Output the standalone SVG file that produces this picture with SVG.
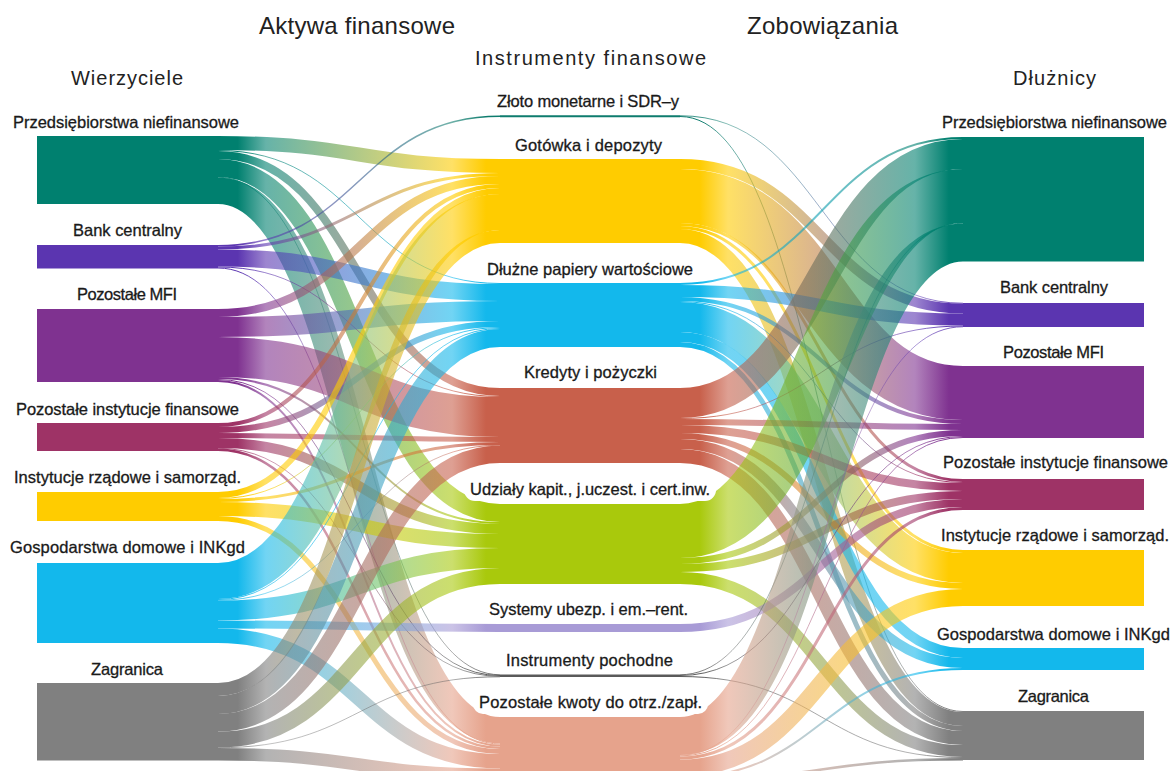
<svg xmlns="http://www.w3.org/2000/svg" xmlns:xlink="http://www.w3.org/1999/xlink" width="1174" height="771" viewBox="0 0 1174 771">
<style>
.t{font-family:"Liberation Sans",Arial,sans-serif;fill:#1a1a1a}
.h{font-size:24px;fill:#222}
.h2{font-size:20px;fill:#222}
.lb{font-size:16.5px;stroke:#1a1a1a;stroke-width:.3px}
.f path{fill:none}
.bg{fill:#fff}
.m{stop-opacity:.6}
.c1{stop-color:#00806F}.c2{stop-color:#5B35B0}.c3{stop-color:#7F3290}.c4{stop-color:#9E3366}
.c5{stop-color:#FFCC00}.c6{stop-color:#13B8EC}.c7{stop-color:#808080}
.cZ{stop-color:#0E7C6E}.cG{stop-color:#FFCC00}.cD{stop-color:#13B8EC}.cK{stop-color:#C8604B}
.cU{stop-color:#A9C90C}.cS{stop-color:#A89BD6}.cP{stop-color:#5a5a5a}.cO{stop-color:#E6A38C}
</style>
<defs>
<linearGradient id="GL" x1="218" x2="500" y1="0" y2="0" gradientUnits="userSpaceOnUse"/>
<linearGradient id="GR" x1="680" x2="963" y1="0" y2="0" gradientUnits="userSpaceOnUse"/>
<linearGradient id="l1G" xlink:href="#GL"><stop offset=".07" class="c1"/><stop offset=".17" class="c1 m"/><stop offset=".83" class="cG m"/><stop offset=".95" class="cG"/></linearGradient>
<linearGradient id="l1D" xlink:href="#GL"><stop offset=".07" class="c1"/><stop offset=".17" class="c1 m"/><stop offset=".83" class="cD m"/><stop offset=".95" class="cD"/></linearGradient>
<linearGradient id="l1K" xlink:href="#GL"><stop offset=".07" class="c1"/><stop offset=".17" class="c1 m"/><stop offset=".83" class="cK m"/><stop offset=".95" class="cK"/></linearGradient>
<linearGradient id="l1U" xlink:href="#GL"><stop offset=".07" class="c1"/><stop offset=".17" class="c1 m"/><stop offset=".83" class="cU m"/><stop offset=".95" class="cU"/></linearGradient>
<linearGradient id="l1P" xlink:href="#GL"><stop offset=".07" class="c1"/><stop offset=".17" class="c1 m"/><stop offset=".83" class="cP m"/><stop offset=".95" class="cP"/></linearGradient>
<linearGradient id="l1O" xlink:href="#GL"><stop offset=".07" class="c1"/><stop offset=".17" class="c1 m"/><stop offset=".83" class="cO m"/><stop offset=".95" class="cO"/></linearGradient>
<linearGradient id="l2Z" xlink:href="#GL"><stop offset=".07" class="c2"/><stop offset=".17" class="c2 m"/><stop offset=".83" class="cZ m"/><stop offset=".95" class="cZ"/></linearGradient>
<linearGradient id="l2G" xlink:href="#GL"><stop offset=".07" class="c2"/><stop offset=".17" class="c2 m"/><stop offset=".83" class="cG m"/><stop offset=".95" class="cG"/></linearGradient>
<linearGradient id="l2D" xlink:href="#GL"><stop offset=".07" class="c2"/><stop offset=".17" class="c2 m"/><stop offset=".83" class="cD m"/><stop offset=".95" class="cD"/></linearGradient>
<linearGradient id="l2K" xlink:href="#GL"><stop offset=".07" class="c2"/><stop offset=".17" class="c2 m"/><stop offset=".83" class="cK m"/><stop offset=".95" class="cK"/></linearGradient>
<linearGradient id="l2O" xlink:href="#GL"><stop offset=".07" class="c2"/><stop offset=".17" class="c2 m"/><stop offset=".83" class="cO m"/><stop offset=".95" class="cO"/></linearGradient>
<linearGradient id="l3G" xlink:href="#GL"><stop offset=".07" class="c3"/><stop offset=".17" class="c3 m"/><stop offset=".83" class="cG m"/><stop offset=".95" class="cG"/></linearGradient>
<linearGradient id="l3D" xlink:href="#GL"><stop offset=".07" class="c3"/><stop offset=".17" class="c3 m"/><stop offset=".83" class="cD m"/><stop offset=".95" class="cD"/></linearGradient>
<linearGradient id="l3K" xlink:href="#GL"><stop offset=".07" class="c3"/><stop offset=".17" class="c3 m"/><stop offset=".83" class="cK m"/><stop offset=".95" class="cK"/></linearGradient>
<linearGradient id="l3U" xlink:href="#GL"><stop offset=".07" class="c3"/><stop offset=".17" class="c3 m"/><stop offset=".83" class="cU m"/><stop offset=".95" class="cU"/></linearGradient>
<linearGradient id="l3P" xlink:href="#GL"><stop offset=".07" class="c3"/><stop offset=".17" class="c3 m"/><stop offset=".83" class="cP m"/><stop offset=".95" class="cP"/></linearGradient>
<linearGradient id="l3O" xlink:href="#GL"><stop offset=".07" class="c3"/><stop offset=".17" class="c3 m"/><stop offset=".83" class="cO m"/><stop offset=".95" class="cO"/></linearGradient>
<linearGradient id="l4G" xlink:href="#GL"><stop offset=".07" class="c4"/><stop offset=".17" class="c4 m"/><stop offset=".83" class="cG m"/><stop offset=".95" class="cG"/></linearGradient>
<linearGradient id="l4D" xlink:href="#GL"><stop offset=".07" class="c4"/><stop offset=".17" class="c4 m"/><stop offset=".83" class="cD m"/><stop offset=".95" class="cD"/></linearGradient>
<linearGradient id="l4K" xlink:href="#GL"><stop offset=".07" class="c4"/><stop offset=".17" class="c4 m"/><stop offset=".83" class="cK m"/><stop offset=".95" class="cK"/></linearGradient>
<linearGradient id="l4U" xlink:href="#GL"><stop offset=".07" class="c4"/><stop offset=".17" class="c4 m"/><stop offset=".83" class="cU m"/><stop offset=".95" class="cU"/></linearGradient>
<linearGradient id="l4P" xlink:href="#GL"><stop offset=".07" class="c4"/><stop offset=".17" class="c4 m"/><stop offset=".83" class="cP m"/><stop offset=".95" class="cP"/></linearGradient>
<linearGradient id="l4O" xlink:href="#GL"><stop offset=".07" class="c4"/><stop offset=".17" class="c4 m"/><stop offset=".83" class="cO m"/><stop offset=".95" class="cO"/></linearGradient>
<linearGradient id="l5G" xlink:href="#GL"><stop offset=".07" class="c5"/><stop offset=".17" class="c5 m"/><stop offset=".83" class="cG m"/><stop offset=".95" class="cG"/></linearGradient>
<linearGradient id="l5D" xlink:href="#GL"><stop offset=".07" class="c5"/><stop offset=".17" class="c5 m"/><stop offset=".83" class="cD m"/><stop offset=".95" class="cD"/></linearGradient>
<linearGradient id="l5K" xlink:href="#GL"><stop offset=".07" class="c5"/><stop offset=".17" class="c5 m"/><stop offset=".83" class="cK m"/><stop offset=".95" class="cK"/></linearGradient>
<linearGradient id="l5U" xlink:href="#GL"><stop offset=".07" class="c5"/><stop offset=".17" class="c5 m"/><stop offset=".83" class="cU m"/><stop offset=".95" class="cU"/></linearGradient>
<linearGradient id="l5O" xlink:href="#GL"><stop offset=".07" class="c5"/><stop offset=".17" class="c5 m"/><stop offset=".83" class="cO m"/><stop offset=".95" class="cO"/></linearGradient>
<linearGradient id="l6G" xlink:href="#GL"><stop offset=".07" class="c6"/><stop offset=".17" class="c6 m"/><stop offset=".83" class="cG m"/><stop offset=".95" class="cG"/></linearGradient>
<linearGradient id="l6D" xlink:href="#GL"><stop offset=".07" class="c6"/><stop offset=".17" class="c6 m"/><stop offset=".83" class="cD m"/><stop offset=".95" class="cD"/></linearGradient>
<linearGradient id="l6K" xlink:href="#GL"><stop offset=".07" class="c6"/><stop offset=".17" class="c6 m"/><stop offset=".83" class="cK m"/><stop offset=".95" class="cK"/></linearGradient>
<linearGradient id="l6U" xlink:href="#GL"><stop offset=".07" class="c6"/><stop offset=".17" class="c6 m"/><stop offset=".83" class="cU m"/><stop offset=".95" class="cU"/></linearGradient>
<linearGradient id="l6S" xlink:href="#GL"><stop offset=".07" class="c6"/><stop offset=".17" class="c6 m"/><stop offset=".83" class="cS m"/><stop offset=".95" class="cS"/></linearGradient>
<linearGradient id="l6O" xlink:href="#GL"><stop offset=".07" class="c6"/><stop offset=".17" class="c6 m"/><stop offset=".83" class="cO m"/><stop offset=".95" class="cO"/></linearGradient>
<linearGradient id="l7G" xlink:href="#GL"><stop offset=".07" class="c7"/><stop offset=".17" class="c7 m"/><stop offset=".83" class="cG m"/><stop offset=".95" class="cG"/></linearGradient>
<linearGradient id="l7D" xlink:href="#GL"><stop offset=".07" class="c7"/><stop offset=".17" class="c7 m"/><stop offset=".83" class="cD m"/><stop offset=".95" class="cD"/></linearGradient>
<linearGradient id="l7K" xlink:href="#GL"><stop offset=".07" class="c7"/><stop offset=".17" class="c7 m"/><stop offset=".83" class="cK m"/><stop offset=".95" class="cK"/></linearGradient>
<linearGradient id="l7U" xlink:href="#GL"><stop offset=".07" class="c7"/><stop offset=".17" class="c7 m"/><stop offset=".83" class="cU m"/><stop offset=".95" class="cU"/></linearGradient>
<linearGradient id="l7P" xlink:href="#GL"><stop offset=".07" class="c7"/><stop offset=".17" class="c7 m"/><stop offset=".83" class="cP m"/><stop offset=".95" class="cP"/></linearGradient>
<linearGradient id="l7O" xlink:href="#GL"><stop offset=".07" class="c7"/><stop offset=".17" class="c7 m"/><stop offset=".83" class="cO m"/><stop offset=".95" class="cO"/></linearGradient>
<linearGradient id="rZ2" xlink:href="#GR"><stop offset=".07" class="cZ"/><stop offset=".17" class="cZ m"/><stop offset=".83" class="c2 m"/><stop offset=".95" class="c2"/></linearGradient>
<linearGradient id="rZ7" xlink:href="#GR"><stop offset=".07" class="cZ"/><stop offset=".17" class="cZ m"/><stop offset=".83" class="c7 m"/><stop offset=".95" class="c7"/></linearGradient>
<linearGradient id="rG2" xlink:href="#GR"><stop offset=".07" class="cG"/><stop offset=".17" class="cG m"/><stop offset=".83" class="c2 m"/><stop offset=".95" class="c2"/></linearGradient>
<linearGradient id="rG3" xlink:href="#GR"><stop offset=".07" class="cG"/><stop offset=".17" class="cG m"/><stop offset=".83" class="c3 m"/><stop offset=".95" class="c3"/></linearGradient>
<linearGradient id="rG4" xlink:href="#GR"><stop offset=".07" class="cG"/><stop offset=".17" class="cG m"/><stop offset=".83" class="c4 m"/><stop offset=".95" class="c4"/></linearGradient>
<linearGradient id="rG5" xlink:href="#GR"><stop offset=".07" class="cG"/><stop offset=".17" class="cG m"/><stop offset=".83" class="c5 m"/><stop offset=".95" class="c5"/></linearGradient>
<linearGradient id="rG7" xlink:href="#GR"><stop offset=".07" class="cG"/><stop offset=".17" class="cG m"/><stop offset=".83" class="c7 m"/><stop offset=".95" class="c7"/></linearGradient>
<linearGradient id="rD1" xlink:href="#GR"><stop offset=".07" class="cD"/><stop offset=".17" class="cD m"/><stop offset=".83" class="c1 m"/><stop offset=".95" class="c1"/></linearGradient>
<linearGradient id="rD2" xlink:href="#GR"><stop offset=".07" class="cD"/><stop offset=".17" class="cD m"/><stop offset=".83" class="c2 m"/><stop offset=".95" class="c2"/></linearGradient>
<linearGradient id="rD3" xlink:href="#GR"><stop offset=".07" class="cD"/><stop offset=".17" class="cD m"/><stop offset=".83" class="c3 m"/><stop offset=".95" class="c3"/></linearGradient>
<linearGradient id="rD4" xlink:href="#GR"><stop offset=".07" class="cD"/><stop offset=".17" class="cD m"/><stop offset=".83" class="c4 m"/><stop offset=".95" class="c4"/></linearGradient>
<linearGradient id="rD5" xlink:href="#GR"><stop offset=".07" class="cD"/><stop offset=".17" class="cD m"/><stop offset=".83" class="c5 m"/><stop offset=".95" class="c5"/></linearGradient>
<linearGradient id="rD6" xlink:href="#GR"><stop offset=".07" class="cD"/><stop offset=".17" class="cD m"/><stop offset=".83" class="c6 m"/><stop offset=".95" class="c6"/></linearGradient>
<linearGradient id="rD7" xlink:href="#GR"><stop offset=".07" class="cD"/><stop offset=".17" class="cD m"/><stop offset=".83" class="c7 m"/><stop offset=".95" class="c7"/></linearGradient>
<linearGradient id="rK1" xlink:href="#GR"><stop offset=".07" class="cK"/><stop offset=".17" class="cK m"/><stop offset=".83" class="c1 m"/><stop offset=".95" class="c1"/></linearGradient>
<linearGradient id="rK2" xlink:href="#GR"><stop offset=".07" class="cK"/><stop offset=".17" class="cK m"/><stop offset=".83" class="c2 m"/><stop offset=".95" class="c2"/></linearGradient>
<linearGradient id="rK3" xlink:href="#GR"><stop offset=".07" class="cK"/><stop offset=".17" class="cK m"/><stop offset=".83" class="c3 m"/><stop offset=".95" class="c3"/></linearGradient>
<linearGradient id="rK4" xlink:href="#GR"><stop offset=".07" class="cK"/><stop offset=".17" class="cK m"/><stop offset=".83" class="c4 m"/><stop offset=".95" class="c4"/></linearGradient>
<linearGradient id="rK5" xlink:href="#GR"><stop offset=".07" class="cK"/><stop offset=".17" class="cK m"/><stop offset=".83" class="c5 m"/><stop offset=".95" class="c5"/></linearGradient>
<linearGradient id="rK6" xlink:href="#GR"><stop offset=".07" class="cK"/><stop offset=".17" class="cK m"/><stop offset=".83" class="c6 m"/><stop offset=".95" class="c6"/></linearGradient>
<linearGradient id="rK7" xlink:href="#GR"><stop offset=".07" class="cK"/><stop offset=".17" class="cK m"/><stop offset=".83" class="c7 m"/><stop offset=".95" class="c7"/></linearGradient>
<linearGradient id="rU1" xlink:href="#GR"><stop offset=".07" class="cU"/><stop offset=".17" class="cU m"/><stop offset=".83" class="c1 m"/><stop offset=".95" class="c1"/></linearGradient>
<linearGradient id="rU3" xlink:href="#GR"><stop offset=".07" class="cU"/><stop offset=".17" class="cU m"/><stop offset=".83" class="c3 m"/><stop offset=".95" class="c3"/></linearGradient>
<linearGradient id="rU4" xlink:href="#GR"><stop offset=".07" class="cU"/><stop offset=".17" class="cU m"/><stop offset=".83" class="c4 m"/><stop offset=".95" class="c4"/></linearGradient>
<linearGradient id="rU7" xlink:href="#GR"><stop offset=".07" class="cU"/><stop offset=".17" class="cU m"/><stop offset=".83" class="c7 m"/><stop offset=".95" class="c7"/></linearGradient>
<linearGradient id="rS4" xlink:href="#GR"><stop offset=".07" class="cS"/><stop offset=".17" class="cS m"/><stop offset=".83" class="c4 m"/><stop offset=".95" class="c4"/></linearGradient>
<linearGradient id="rP1" xlink:href="#GR"><stop offset=".07" class="cP"/><stop offset=".17" class="cP m"/><stop offset=".83" class="c1 m"/><stop offset=".95" class="c1"/></linearGradient>
<linearGradient id="rP3" xlink:href="#GR"><stop offset=".07" class="cP"/><stop offset=".17" class="cP m"/><stop offset=".83" class="c3 m"/><stop offset=".95" class="c3"/></linearGradient>
<linearGradient id="rP7" xlink:href="#GR"><stop offset=".07" class="cP"/><stop offset=".17" class="cP m"/><stop offset=".83" class="c7 m"/><stop offset=".95" class="c7"/></linearGradient>
<linearGradient id="rO1" xlink:href="#GR"><stop offset=".07" class="cO"/><stop offset=".17" class="cO m"/><stop offset=".83" class="c1 m"/><stop offset=".95" class="c1"/></linearGradient>
<linearGradient id="rO2" xlink:href="#GR"><stop offset=".07" class="cO"/><stop offset=".17" class="cO m"/><stop offset=".83" class="c2 m"/><stop offset=".95" class="c2"/></linearGradient>
<linearGradient id="rO3" xlink:href="#GR"><stop offset=".07" class="cO"/><stop offset=".17" class="cO m"/><stop offset=".83" class="c3 m"/><stop offset=".95" class="c3"/></linearGradient>
<linearGradient id="rO4" xlink:href="#GR"><stop offset=".07" class="cO"/><stop offset=".17" class="cO m"/><stop offset=".83" class="c4 m"/><stop offset=".95" class="c4"/></linearGradient>
<linearGradient id="rO5" xlink:href="#GR"><stop offset=".07" class="cO"/><stop offset=".17" class="cO m"/><stop offset=".83" class="c5 m"/><stop offset=".95" class="c5"/></linearGradient>
<linearGradient id="rO6" xlink:href="#GR"><stop offset=".07" class="cO"/><stop offset=".17" class="cO m"/><stop offset=".83" class="c6 m"/><stop offset=".95" class="c6"/></linearGradient>
<linearGradient id="rO7" xlink:href="#GR"><stop offset=".07" class="cO"/><stop offset=".17" class="cO m"/><stop offset=".83" class="c7 m"/><stop offset=".95" class="c7"/></linearGradient>
</defs>
<rect width="1174" height="771" fill="#fff"/>
<g id="headers" class="t">
<text class="t h" x="259" y="34" textLength="196">Aktywa finansowe</text>
<text class="t h" x="747" y="34" textLength="151">Zobowiązania</text>
<text class="t h2" x="475" y="65" textLength="231">Instrumenty finansowe</text>
<text class="t h2" x="71" y="85" textLength="112">Wierzyciele</text>
<text class="t h2" x="1013" y="85" textLength="83">Dłużnicy</text>
</g>
<g id="connectors" class="f">
<path d="M218 143C359 143 359 166 500 166" stroke="url(#l1G)" stroke-width="14"/>
<path d="M218 150.5C359 150.5 359 283.5 500 283.5" stroke="url(#l1D)" stroke-width="1"/>
<path d="M218 155C359 155 359 392 500 392" stroke="url(#l1K)" stroke-width="8"/>
<path d="M218 168C359 168 359 513 500 513" stroke="url(#l1U)" stroke-width="18"/>
<path d="M218 177.25C359 177.25 359 674.75 500 674.75" stroke="url(#l1P)" stroke-width=".8"/>
<path d="M218 190.75C359 190.75 359 730.25 500 730.25" stroke="url(#l1O)" stroke-width="26.5"/>
<path d="M218 245.75C359 245.75 359 116.25 500 116.25" stroke="url(#l2Z)" stroke-width="1.5"/>
<path d="M218 248C359 248 359 174.5 500 174.5" stroke="url(#l2G)" stroke-width="3"/>
<path d="M218 258C359 258 359 292.5 500 292.5" stroke="url(#l2D)" stroke-width="17"/>
<path d="M218 267C359 267 359 396.5 500 396.5" stroke="url(#l2K)" stroke-width="1"/>
<path d="M218 268C359 268 359 744 500 744" stroke="url(#l2O)" stroke-width="1"/>
<path d="M218 313C359 313 359 180 500 180" stroke="url(#l3G)" stroke-width="8"/>
<path d="M218 327C359 327 359 311 500 311" stroke="url(#l3D)" stroke-width="20"/>
<path d="M218 357C359 357 359 417 500 417" stroke="url(#l3K)" stroke-width="40"/>
<path d="M218 378C359 378 359 523 500 523" stroke="url(#l3U)" stroke-width="2"/>
<path d="M218 379.5C359 379.5 359 675.5 500 675.5" stroke="url(#l3P)" stroke-width="1"/>
<path d="M218 381C359 381 359 745.5 500 745.5" stroke="url(#l3O)" stroke-width="2"/>
<path d="M218 425C359 425 359 186 500 186" stroke="url(#l4G)" stroke-width="4"/>
<path d="M218 430C359 430 359 324 500 324" stroke="url(#l4D)" stroke-width="6"/>
<path d="M218 435.5C359 435.5 359 439.5 500 439.5" stroke="url(#l4K)" stroke-width="5"/>
<path d="M218 443C359 443 359 529 500 529" stroke="url(#l4U)" stroke-width="10"/>
<path d="M218 448.25C359 448.25 359 676.25 500 676.25" stroke="url(#l4P)" stroke-width=".8"/>
<path d="M218 449.75C359 449.75 359 747.75 500 747.75" stroke="url(#l4O)" stroke-width="2.5"/>
<path d="M218 495C359 495 359 191 500 191" stroke="url(#l5G)" stroke-width="6"/>
<path d="M218 498.5C359 498.5 359 327.5 500 327.5" stroke="url(#l5D)" stroke-width="1"/>
<path d="M218 500.5C359 500.5 359 443.5 500 443.5" stroke="url(#l5K)" stroke-width="3"/>
<path d="M218 509C359 509 359 541 500 541" stroke="url(#l5U)" stroke-width="14"/>
<path d="M218 518.5C359 518.5 359 751.5 500 751.5" stroke="url(#l5O)" stroke-width="5"/>
<path d="M218 581C359 581 359 212 500 212" stroke="url(#l6G)" stroke-width="36"/>
<path d="M218 599.5C359 599.5 359 328.5 500 328.5" stroke="url(#l6D)" stroke-width="1"/>
<path d="M218 600.25C359 600.25 359 445.25 500 445.25" stroke="url(#l6K)" stroke-width=".8"/>
<path d="M218 610.5C359 610.5 359 558 500 558" stroke="url(#l6U)" stroke-width="20"/>
<path d="M218 624.5C359 624.5 359 628 500 628" stroke="url(#l6S)" stroke-width="8"/>
<path d="M218 635.75C359 635.75 359 761.25 500 761.25" stroke="url(#l6O)" stroke-width="14.5"/>
<path d="M218 689.5C359 689.5 359 236.5 500 236.5" stroke="url(#l7G)" stroke-width="13"/>
<path d="M218 705C359 705 359 338 500 338" stroke="url(#l7D)" stroke-width="18"/>
<path d="M218 722.75C359 722.75 359 454.25 500 454.25" stroke="url(#l7K)" stroke-width="17.5"/>
<path d="M218 739.5C359 739.5 359 576 500 576" stroke="url(#l7U)" stroke-width="16"/>
<path d="M218 747.75C359 747.75 359 676.75 500 676.75" stroke="url(#l7P)" stroke-width=".8"/>
<path d="M218 754.25C359 754.25 359 774.75 500 774.75" stroke="url(#l7O)" stroke-width="12.5"/>
<path d="M680 115.75C821.5 115.75 821.5 303.25 963 303.25" stroke="url(#rZ2)" stroke-width=".8"/>
<path d="M680 116.5C821.5 116.5 821.5 711.5 963 711.5" stroke="url(#rZ7)" stroke-width="1"/>
<path d="M680 164C821.5 164 821.5 308.5 963 308.5" stroke="url(#rG2)" stroke-width="10"/>
<path d="M680 196C821.5 196 821.5 393 963 393" stroke="url(#rG3)" stroke-width="54"/>
<path d="M680 224.5C821.5 224.5 821.5 480.5 963 480.5" stroke="url(#rG4)" stroke-width="3"/>
<path d="M680 227.5C821.5 227.5 821.5 551.5 963 551.5" stroke="url(#rG5)" stroke-width="3"/>
<path d="M680 236C821.5 236 821.5 719 963 719" stroke="url(#rG7)" stroke-width="14"/>
<path d="M680 284C821.5 284 821.5 138 963 138" stroke="url(#rD1)" stroke-width="2"/>
<path d="M680 291C821.5 291 821.5 319.5 963 319.5" stroke="url(#rD2)" stroke-width="12"/>
<path d="M680 299C821.5 299 821.5 422 963 422" stroke="url(#rD3)" stroke-width="4"/>
<path d="M680 301.5C821.5 301.5 821.5 482.5 963 482.5" stroke="url(#rD4)" stroke-width="1"/>
<path d="M680 317C821.5 317 821.5 568 963 568" stroke="url(#rD5)" stroke-width="30"/>
<path d="M680 337C821.5 337 821.5 653 963 653" stroke="url(#rD6)" stroke-width="10"/>
<path d="M680 344.5C821.5 344.5 821.5 728.5 963 728.5" stroke="url(#rD7)" stroke-width="5"/>
<path d="M680 403C821.5 403 821.5 154 963 154" stroke="url(#rK1)" stroke-width="30"/>
<path d="M680 418.5C821.5 418.5 821.5 326 963 326" stroke="url(#rK2)" stroke-width="1"/>
<path d="M680 422C821.5 422 821.5 427 963 427" stroke="url(#rK3)" stroke-width="6"/>
<path d="M680 429C821.5 429 821.5 487 963 487" stroke="url(#rK4)" stroke-width="8"/>
<path d="M680 436C821.5 436 821.5 586 963 586" stroke="url(#rK5)" stroke-width="6"/>
<path d="M680 444C821.5 444 821.5 663 963 663" stroke="url(#rK6)" stroke-width="10"/>
<path d="M680 456C821.5 456 821.5 738 963 738" stroke="url(#rK7)" stroke-width="14"/>
<path d="M680 531C821.5 531 821.5 196 963 196" stroke="url(#rU1)" stroke-width="54"/>
<path d="M680 561C821.5 561 821.5 433 963 433" stroke="url(#rU3)" stroke-width="6"/>
<path d="M680 568C821.5 568 821.5 495 963 495" stroke="url(#rU4)" stroke-width="8"/>
<path d="M680 578C821.5 578 821.5 751 963 751" stroke="url(#rU7)" stroke-width="12"/>
<path d="M680 628C821.5 628 821.5 503 963 503" stroke="url(#rS4)" stroke-width="8"/>
<path d="M680 674.75C821.5 674.75 821.5 223.25 963 223.25" stroke="url(#rP1)" stroke-width=".8"/>
<path d="M680 675.5C821.5 675.5 821.5 436.5 963 436.5" stroke="url(#rP3)" stroke-width="1"/>
<path d="M680 676.5C821.5 676.5 821.5 757.5 963 757.5" stroke="url(#rP7)" stroke-width="1"/>
<path d="M680 736C821.5 736 821.5 242.5 963 242.5" stroke="url(#rO1)" stroke-width="38"/>
<path d="M680 755.25C821.5 755.25 821.5 326.75 963 326.75" stroke="url(#rO2)" stroke-width=".8"/>
<path d="M680 756C821.5 756 821.5 437.5 963 437.5" stroke="url(#rO3)" stroke-width="1"/>
<path d="M680 758C821.5 758 821.5 508.5 963 508.5" stroke="url(#rO4)" stroke-width="3"/>
<path d="M680 768C821.5 768 821.5 597.5 963 597.5" stroke="url(#rO5)" stroke-width="17"/>
<path d="M680 777.5C821.5 777.5 821.5 669 963 669" stroke="url(#rO6)" stroke-width="2"/>
<path d="M680 779.75C821.5 779.75 821.5 759.25 963 759.25" stroke="url(#rO7)" stroke-width="2.5"/>
</g>
<g id="n-L1"><rect x="37" y="136" width="181" height="68" fill="#00806F"/><text class="t lb" x="13" y="128" textLength="226">Przedsiębiorstwa niefinansowe</text></g>
<g id="n-L2"><rect x="37" y="245" width="181" height="23.5" fill="#5B35B0"/><text class="t lb" x="73" y="236" textLength="109">Bank centralny</text></g>
<g id="n-L3"><rect x="37" y="309" width="181" height="73" fill="#7F3290"/><text class="t lb" x="77" y="300" textLength="100">Pozostałe MFI</text></g>
<g id="n-L4"><rect x="37" y="423" width="181" height="28" fill="#9E3366"/><text class="t lb" x="16" y="415" textLength="223">Pozostałe instytucje finansowe</text></g>
<g id="n-L5"><rect x="37" y="492" width="181" height="29" fill="#FFCC00"/><text class="t lb" x="14" y="483" textLength="227">Instytucje rządowe i samorząd.</text></g>
<g id="n-L6"><rect x="37" y="563" width="181" height="80" fill="#13B8EC"/><text class="t lb" x="10" y="553" textLength="235">Gospodarstwa domowe i INKgd</text></g>
<g id="n-L7"><rect x="37" y="683" width="181" height="77.5" fill="#808080"/><text class="t lb" x="91" y="675" textLength="72">Zagranica</text></g>
<g id="n-MZ"><rect class="bg" x="489" y="91" width="198" height="22" rx="11"/><rect x="500" y="115.25" width="180" height="2" fill="#0E7C6E"/><text class="t lb" x="497" y="107" textLength="182">Złoto monetarne i SDR–y</text></g>
<g id="n-MG"><rect class="bg" x="507" y="135" width="163" height="22" rx="11"/><rect x="500" y="159" width="180" height="84" fill="#FFCC00"/><text class="t lb" x="515" y="151" textLength="147">Gotówka i depozyty</text></g>
<g id="n-MD"><rect class="bg" x="480" y="259" width="220" height="22" rx="11"/><rect x="500" y="283" width="180" height="64" fill="#13B8EC"/><text class="t lb" x="487" y="275" textLength="206">Dłużne papiery wartościowe</text></g>
<g id="n-MK"><rect class="bg" x="517" y="362" width="147" height="22" rx="11"/><rect x="500" y="388" width="180" height="75" fill="#C8604B"/><text class="t lb" x="524" y="378" textLength="133">Kredyty i pożyczki</text></g>
<g id="n-MU"><rect class="bg" x="464" y="479" width="252" height="22" rx="11"/><rect x="500" y="504" width="180" height="80" fill="#A9C90C"/><text class="t lb" x="470" y="495" textLength="240">Udziały kapit., j.uczest. i cert.inw.</text></g>
<g id="n-MS"><rect class="bg" x="483" y="600" width="211" height="20" rx="10"/><rect x="500" y="624" width="180" height="8" fill="#A89BD6"/><text class="t lb" x="489" y="615" textLength="199">Systemy ubezp. i em.–rent.</text></g>
<g id="n-MP"><rect class="bg" x="500" y="651" width="179" height="20" rx="10"/><rect x="500" y="674.5" width="180" height="2.5" fill="#5a5a5a"/><text class="t lb" x="506" y="666" textLength="167">Instrumenty pochodne</text></g>
<g id="n-MO"><rect class="bg" x="473" y="693" width="235" height="21" rx="10"/><rect x="500" y="717" width="180" height="64" fill="#E6A38C"/><text class="t lb" x="479" y="708" textLength="223">Pozostałe kwoty do otrz./zapł.</text></g>
<g id="n-R1"><rect x="963" y="137" width="181" height="124.5" fill="#00806F"/><text class="t lb" x="942" y="128" textLength="225">Przedsiębiorstwa niefinansowe</text></g>
<g id="n-R2"><rect x="963" y="303" width="181" height="24" fill="#5B35B0"/><text class="t lb" x="1000" y="293" textLength="108">Bank centralny</text></g>
<g id="n-R3"><rect x="963" y="366" width="181" height="72" fill="#7F3290"/><text class="t lb" x="1003" y="358" textLength="101">Pozostałe MFI</text></g>
<g id="n-R4"><rect x="963" y="479" width="181" height="31" fill="#9E3366"/><text class="t lb" x="943" y="468" textLength="225">Pozostałe instytucje finansowe</text></g>
<g id="n-R5"><rect x="963" y="550" width="181" height="56" fill="#FFCC00"/><text class="t lb" x="941" y="541" textLength="228">Instytucje rządowe i samorząd.</text></g>
<g id="n-R6"><rect x="963" y="648" width="181" height="22" fill="#13B8EC"/><text class="t lb" x="937" y="640" textLength="233">Gospodarstwa domowe i INKgd</text></g>
<g id="n-R7"><rect x="963" y="711" width="181" height="49" fill="#808080"/><text class="t lb" x="1018" y="702" textLength="71">Zagranica</text></g>
</svg>
